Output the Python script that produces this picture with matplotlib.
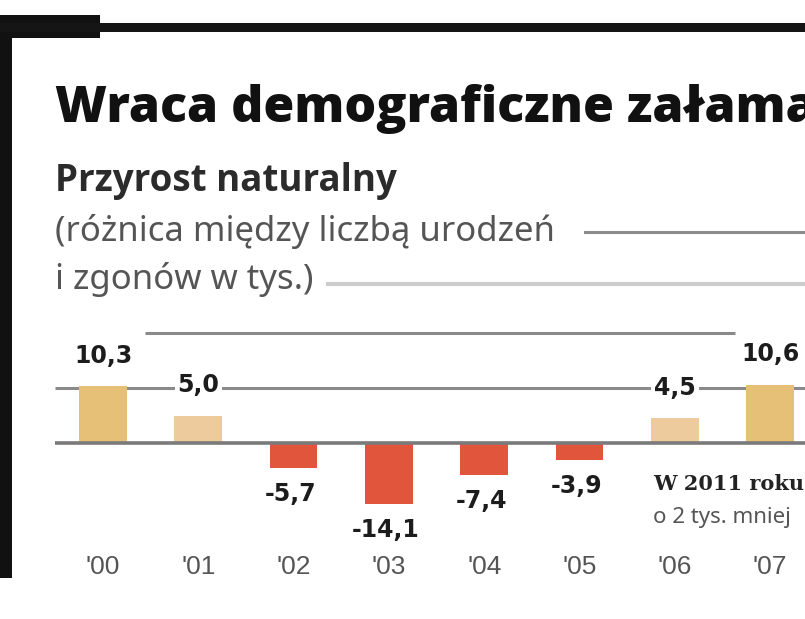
import numpy as np
import matplotlib
matplotlib.use("Agg")
import matplotlib.pyplot as plt
from matplotlib.patches import Rectangle
from matplotlib.lines import Line2D

# data: natural increase (thousands)
years = ["00", "01", "02", "03", "04", "05", "06", "07"]
values = [10.3, 5.0, -5.7, -14.1, -7.4, -3.9, 4.5, 10.6]
value_labels = ["10,3", "5,0", "-5,7", "-14,1", "-7,4", "-3,9", "4,5", "10,6"]

title = "Wraca demograficzne załamanie"
subtitle = "Przyrost naturalny"
note1 = "(różnica między liczbą urodzeń"
note2 = "i zgonów w tys.)"
side1 = "W 2011 roku"
side2 = "o 2 tys. mniej"

# styles
gold = "#E6C077"
light_gold = "#EDCB9C"
red = "#E0553B"
bar_colors = [gold, light_gold, red, red, red, red, light_gold, gold]

W, H = 805, 619
fig = plt.figure(figsize=(W / 100, H / 100), dpi=100)
fig.patch.set_facecolor("white")


def fx(px):
    return px / W


def fy(py):
    return 1 - py / H


# frame decorations
fig.add_artist(Rectangle((0, fy(578)), fx(12), fy(15) - fy(578),
                         transform=fig.transFigure, color="#111111", lw=0))
fig.add_artist(Rectangle((0, fy(38)), fx(100), fy(15) - fy(38),
                         transform=fig.transFigure, color="#111111", lw=0))
fig.add_artist(Rectangle((0, fy(32)), 1, fy(23) - fy(32),
                         transform=fig.transFigure, color="#151515", lw=0))

# texts (title runs past the right edge, as in the cropped original)
fig.text(fx(55), fy(122), title, fontsize=36, fontweight="heavy",
         family="Open Sans", color="#111111", va="baseline")
fig.text(fx(55), fy(191), subtitle, fontsize=26.5, fontweight="bold",
         family="Open Sans", color="#2b2b2b", va="baseline")
fig.text(fx(55), fy(241), note1, fontsize=25, family="Noto Sans",
         color="#555555", va="baseline")
fig.text(fx(55), fy(289), note2, fontsize=25, family="Noto Sans",
         color="#555555", va="baseline")
fig.add_artist(Line2D([fx(585), 1], [fy(232), fy(232)], transform=fig.transFigure,
                      color="#8c8c8c", lw=2.2))
fig.add_artist(Line2D([fx(328), 1], [fy(284), fy(284)], transform=fig.transFigure,
                      color="#cdcdcd", lw=3))
fig.text(fx(653), fy(490), side1, fontsize=15, fontweight="bold",
         family="DejaVu Serif", color="#222222", va="baseline")
fig.text(fx(653), fy(523), side2, fontsize=16, family="Noto Sans",
         color="#555555", va="baseline")

# chart axes over the whole figure
ax = fig.add_axes([0, 0, 1, 1])
ax.set_axis_off()

# the original draws negative bars at a smaller scale than positive ones
NEG = 4.3 / 5.5


def fwd(y):
    y = np.asarray(y, dtype=float)
    return np.where(y >= 0, y, y * NEG)


def inv(y):
    y = np.asarray(y, dtype=float)
    return np.where(y >= 0, y, y / NEG)


ax.set_yscale("function", functions=(fwd, inv))
px_per_unit = 5.5
zero_px = 443
ax.set_ylim(-(H - zero_px) / px_per_unit / NEG, zero_px / px_per_unit)

step = 95.3
x0 = 103
ax.set_xlim(-x0 / step, (W - x0) / step)
x = np.arange(len(years))

# grid lines
ax.hlines(20, (145 - x0) / step, (735 - x0) / step, color="#8a8a8a", lw=2.2, zorder=1)
ax.hlines(10, -0.5, 8, color="#8a8a8a", lw=2.2, zorder=1)

ax.bar(x, values, width=0.5, color=bar_colors, zorder=3)
ax.hlines(0, -0.5, 8, color="#7a7a7a", lw=2.6, zorder=4)

for xi, v, lab in zip(x, values, value_labels):
    off = 22 if v > 0 else -19
    ax.annotate(lab, (xi, v), xytext=(-2 if v < 0 else 0, off),
                textcoords="offset points", ha="center", va="center",
                fontsize=17, fontweight="bold", family="DejaVu Sans",
                color="#1c1c1c", zorder=5,
                bbox=dict(boxstyle="square,pad=0.12", fc="white", ec="none"))

for xi, yy in zip(x, years):
    ax.text(xi, 1 - 567 / H, "'" + yy, transform=ax.get_xaxis_transform(),
            ha="center", va="center", fontsize=19, family="Liberation Sans",
            color="#555555")

fig.savefig("out.png", dpi=100, facecolor="white")
